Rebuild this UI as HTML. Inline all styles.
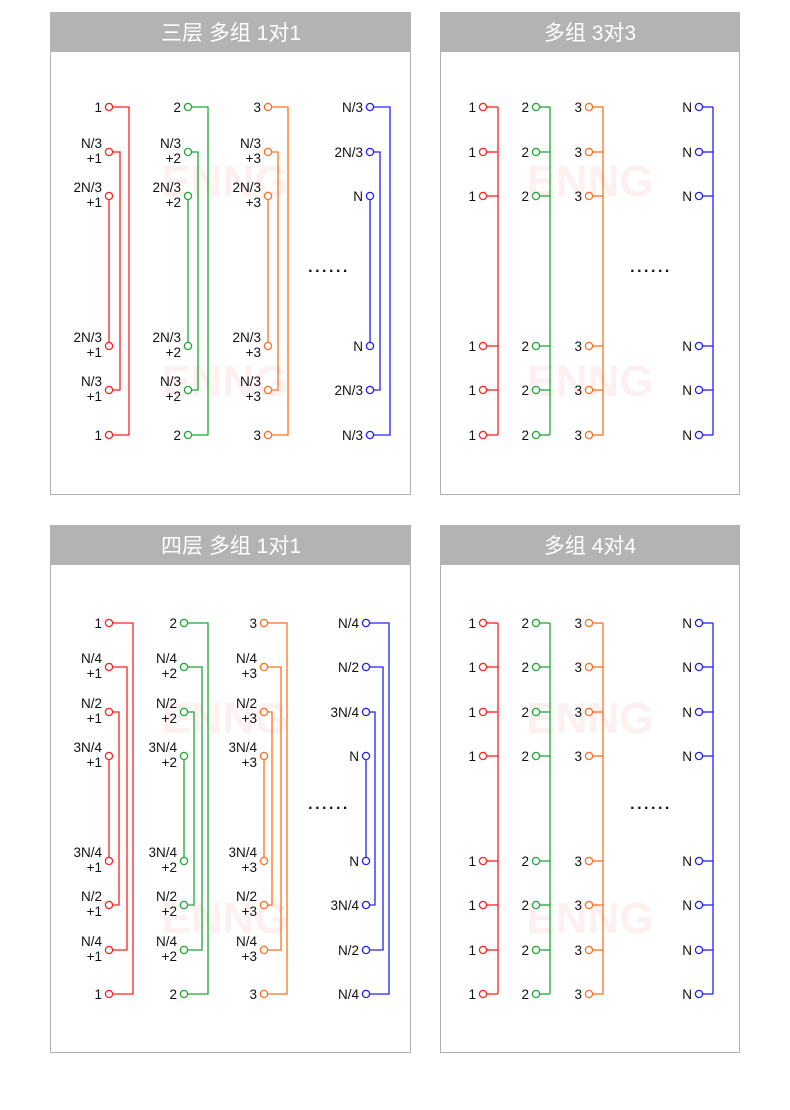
<!DOCTYPE html>
<html><head><meta charset="utf-8"><style>
body{margin:0;background:#fff;}
svg{display:block;font-family:"Liberation Sans","Noto Sans CJK SC",sans-serif;}
.t{font-size:13.5px;fill:#111;text-anchor:end;}
.d{font-size:16px;font-weight:bold;fill:#111;text-anchor:middle;letter-spacing:2.5px;}
.h{font-size:21px;fill:#fff;text-anchor:middle;}
.w{font-size:44px;font-weight:bold;fill:#fdf0f0;text-anchor:middle;}
</style></head><body>
<svg id="s" width="790" height="1110" viewBox="0 0 790 1110" xmlns="http://www.w3.org/2000/svg">
<rect x="50.5" y="12.5" width="360" height="482" fill="#fff" stroke="#b0b0b0"/>
<rect x="440.5" y="12.5" width="299" height="482" fill="#fff" stroke="#b0b0b0"/>
<rect x="50.5" y="525.5" width="360" height="527" fill="#fff" stroke="#b0b0b0"/>
<rect x="440.5" y="525.5" width="299" height="527" fill="#fff" stroke="#b0b0b0"/>
<rect x="50" y="12" width="361" height="40" fill="#b3b3b3"/>
<rect x="440" y="12" width="300" height="40" fill="#b3b3b3"/>
<rect x="50" y="525" width="361" height="40" fill="#b3b3b3"/>
<rect x="440" y="525" width="300" height="40" fill="#b3b3b3"/>
<text class="h" x="231" y="40">三层 多组 1对1</text>
<text class="h" x="590" y="40">多组 3对3</text>
<text class="h" x="231" y="553">四层 多组 1对1</text>
<text class="h" x="590" y="553">多组 4对4</text>
<text class="w" x="225" y="196">ENNG</text><text class="w" x="225" y="396">ENNG</text>
<text class="w" x="590" y="196">ENNG</text><text class="w" x="590" y="396">ENNG</text>
<text class="w" x="225" y="733">ENNG</text><text class="w" x="225" y="933">ENNG</text>
<text class="w" x="590" y="733">ENNG</text><text class="w" x="590" y="933">ENNG</text>
<g id="g"></g>
<g>
<text class="t" x="102" y="112">1</text>
<text class="t" x="102" y="148">N/3</text><text class="t" x="102" y="163">+1</text>
<text class="t" x="102" y="192">2N/3</text><text class="t" x="102" y="207">+1</text>
<text class="t" x="102" y="342">2N/3</text><text class="t" x="102" y="357">+1</text>
<text class="t" x="102" y="386">N/3</text><text class="t" x="102" y="401">+1</text>
<text class="t" x="102" y="440">1</text>
<text class="t" x="181" y="112">2</text>
<text class="t" x="181" y="148">N/3</text><text class="t" x="181" y="163">+2</text>
<text class="t" x="181" y="192">2N/3</text><text class="t" x="181" y="207">+2</text>
<text class="t" x="181" y="342">2N/3</text><text class="t" x="181" y="357">+2</text>
<text class="t" x="181" y="386">N/3</text><text class="t" x="181" y="401">+2</text>
<text class="t" x="181" y="440">2</text>
<text class="t" x="261" y="112">3</text>
<text class="t" x="261" y="148">N/3</text><text class="t" x="261" y="163">+3</text>
<text class="t" x="261" y="192">2N/3</text><text class="t" x="261" y="207">+3</text>
<text class="t" x="261" y="342">2N/3</text><text class="t" x="261" y="357">+3</text>
<text class="t" x="261" y="386">N/3</text><text class="t" x="261" y="401">+3</text>
<text class="t" x="261" y="440">3</text>
<text class="t" x="363" y="112">N/3</text><text class="t" x="363" y="157">2N/3</text>
<text class="t" x="363" y="201">N</text><text class="t" x="363" y="351">N</text>
<text class="t" x="363" y="395">2N/3</text><text class="t" x="363" y="440">N/3</text>
<text class="d" x="329" y="272">......</text>
</g>
<g>
<text class="t" x="476" y="112">1</text><text class="t" x="529" y="112">2</text><text class="t" x="582" y="112">3</text><text class="t" x="692" y="112">N</text>
<text class="t" x="476" y="157">1</text><text class="t" x="529" y="157">2</text><text class="t" x="582" y="157">3</text><text class="t" x="692" y="157">N</text>
<text class="t" x="476" y="201">1</text><text class="t" x="529" y="201">2</text><text class="t" x="582" y="201">3</text><text class="t" x="692" y="201">N</text>
<text class="t" x="476" y="351">1</text><text class="t" x="529" y="351">2</text><text class="t" x="582" y="351">3</text><text class="t" x="692" y="351">N</text>
<text class="t" x="476" y="395">1</text><text class="t" x="529" y="395">2</text><text class="t" x="582" y="395">3</text><text class="t" x="692" y="395">N</text>
<text class="t" x="476" y="440">1</text><text class="t" x="529" y="440">2</text><text class="t" x="582" y="440">3</text><text class="t" x="692" y="440">N</text>
<text class="d" x="651" y="272">......</text>
</g>
<g>
<text class="t" x="102" y="628">1</text>
<text class="t" x="102" y="663">N/4</text><text class="t" x="102" y="678">+1</text>
<text class="t" x="102" y="708">N/2</text><text class="t" x="102" y="723">+1</text>
<text class="t" x="102" y="752">3N/4</text><text class="t" x="102" y="767">+1</text>
<text class="t" x="102" y="857">3N/4</text><text class="t" x="102" y="872">+1</text>
<text class="t" x="102" y="901">N/2</text><text class="t" x="102" y="916">+1</text>
<text class="t" x="102" y="946">N/4</text><text class="t" x="102" y="961">+1</text>
<text class="t" x="102" y="999">1</text>
<text class="t" x="177" y="628">2</text>
<text class="t" x="177" y="663">N/4</text><text class="t" x="177" y="678">+2</text>
<text class="t" x="177" y="708">N/2</text><text class="t" x="177" y="723">+2</text>
<text class="t" x="177" y="752">3N/4</text><text class="t" x="177" y="767">+2</text>
<text class="t" x="177" y="857">3N/4</text><text class="t" x="177" y="872">+2</text>
<text class="t" x="177" y="901">N/2</text><text class="t" x="177" y="916">+2</text>
<text class="t" x="177" y="946">N/4</text><text class="t" x="177" y="961">+2</text>
<text class="t" x="177" y="999">2</text>
<text class="t" x="257" y="628">3</text>
<text class="t" x="257" y="663">N/4</text><text class="t" x="257" y="678">+3</text>
<text class="t" x="257" y="708">N/2</text><text class="t" x="257" y="723">+3</text>
<text class="t" x="257" y="752">3N/4</text><text class="t" x="257" y="767">+3</text>
<text class="t" x="257" y="857">3N/4</text><text class="t" x="257" y="872">+3</text>
<text class="t" x="257" y="901">N/2</text><text class="t" x="257" y="916">+3</text>
<text class="t" x="257" y="946">N/4</text><text class="t" x="257" y="961">+3</text>
<text class="t" x="257" y="999">3</text>
<text class="t" x="359" y="628">N/4</text><text class="t" x="359" y="672">N/2</text>
<text class="t" x="359" y="717">3N/4</text><text class="t" x="359" y="761">N</text>
<text class="t" x="359" y="866">N</text><text class="t" x="359" y="910">3N/4</text>
<text class="t" x="359" y="955">N/2</text><text class="t" x="359" y="999">N/4</text>
<text class="d" x="329" y="809">......</text>
</g>
<g>
<text class="t" x="476" y="628">1</text><text class="t" x="529" y="628">2</text><text class="t" x="582" y="628">3</text><text class="t" x="692" y="628">N</text>
<text class="t" x="476" y="672">1</text><text class="t" x="529" y="672">2</text><text class="t" x="582" y="672">3</text><text class="t" x="692" y="672">N</text>
<text class="t" x="476" y="717">1</text><text class="t" x="529" y="717">2</text><text class="t" x="582" y="717">3</text><text class="t" x="692" y="717">N</text>
<text class="t" x="476" y="761">1</text><text class="t" x="529" y="761">2</text><text class="t" x="582" y="761">3</text><text class="t" x="692" y="761">N</text>
<text class="t" x="476" y="866">1</text><text class="t" x="529" y="866">2</text><text class="t" x="582" y="866">3</text><text class="t" x="692" y="866">N</text>
<text class="t" x="476" y="910">1</text><text class="t" x="529" y="910">2</text><text class="t" x="582" y="910">3</text><text class="t" x="692" y="910">N</text>
<text class="t" x="476" y="955">1</text><text class="t" x="529" y="955">2</text><text class="t" x="582" y="955">3</text><text class="t" x="692" y="955">N</text>
<text class="t" x="476" y="999">1</text><text class="t" x="529" y="999">2</text><text class="t" x="582" y="999">3</text><text class="t" x="692" y="999">N</text>
<text class="d" x="651" y="809">......</text>
</g>
</svg>
<script>
var g=document.getElementById('g'),NS='http://www.w3.org/2000/svg';
function el(t,a){var e=document.createElementNS(NS,t);for(var k in a)e.setAttribute(k,a[k]);g.appendChild(e);}
function ln(pts,c){el('polyline',{points:pts.map(function(p){return p.join(',')}).join(' '),fill:'none',stroke:c,'stroke-width':1.3});}
function circ(x,y,c){el('circle',{cx:x,cy:y,r:3.6,fill:'#fff',stroke:c,'stroke-width':1.3});}
var R='#ff2020',G='#1ea832',O='#ff7020',B='#2020ff';
function nested(cx,xs,rows,c){var n=rows.length;
 for(var i=0;i<n/2;i++){var a=rows[i],b=rows[n-1-i];
  if(i<xs.length){var x=xs[i];ln([[cx+4,a],[x,a],[x,b],[cx+4,b]],c);}
  else ln([[cx,a+4],[cx,b-4]],c);}
 rows.forEach(function(y){circ(cx,y,c);});}
var r1=[107,152,196,346,390,435];
nested(109,[129,120],r1,R);nested(188,[208,198],r1,G);nested(268,[288,278],r1,O);nested(370,[390,380],r1,B);
var r2=[623,667,712,756,861,905,950,994];
nested(109,[133,127,119],r2,R);nested(184,[208,202,194],r2,G);nested(264,[287,281,272],r2,O);nested(366,[389,383,375],r2,B);
function bus(cx,x,rows,c){ln([[x,rows[0]],[x,rows[rows.length-1]]],c);rows.forEach(function(y){ln([[cx+4,y],[x,y]],c);circ(cx,y,c);});}
[[483,498,R],[536,550,G],[589,603,O],[699,713,B]].forEach(function(p){bus(p[0],p[1],r1,p[2]);bus(p[0],p[1],r2,p[2]);});
</script>
</body></html>
